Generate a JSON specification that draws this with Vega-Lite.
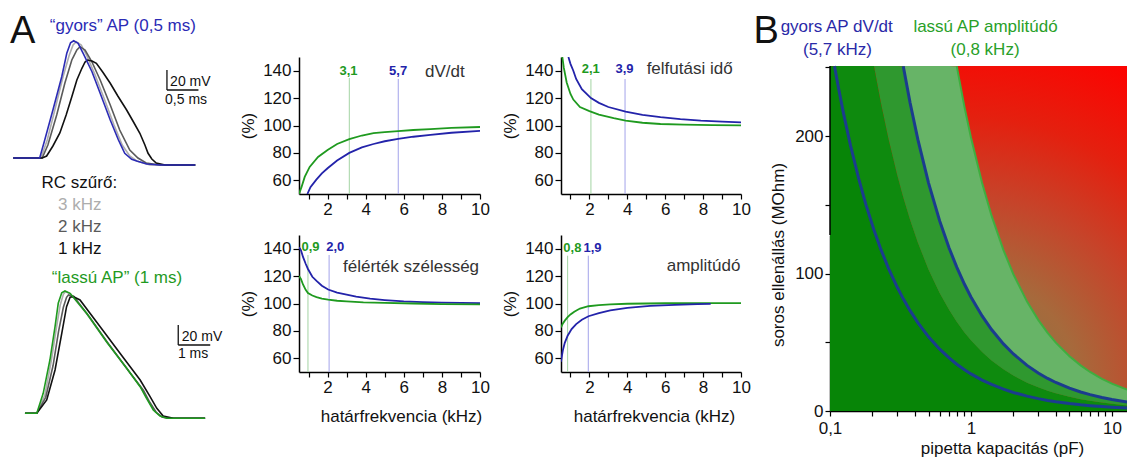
{
"$schema":"https://vega.github.io/schema/vega-lite/v6.json",
"padding":0,
"columns":7,
"align":"none",
"bounds":"flush",
"spacing":{"row":0,"column":0},
"resolve":{"scale":{"color":"independent"}},
"config":{
 "view":{"stroke":null},
 "font":"Liberation Sans",
 "axis":{"grid":false,"domainColor":"#000000","domainWidth":1.5,"tickColor":"#000000","tickWidth":1.2,"labelFontSize":17,"labelColor":"#111111","titleFontSize":17,"titleFontWeight":"normal","titleColor":"#111111","labelFlush":false,"labelOverlap":false,"labelPadding":2}
},
"datasets":{
 "fast":[
  {"s":"3k","t":0.21,"V":-70},{"s":"3k","t":0.65,"V":-70},{"s":"3k","t":0.75,"V":-52},{"s":"3k","t":0.87,"V":-22},{"s":"3k","t":1.0,"V":11},{"s":"3k","t":1.10,"V":33},{"s":"3k","t":1.16,"V":43},{"s":"3k","t":1.21,"V":46.3},{"s":"3k","t":1.29,"V":43},{"s":"3k","t":1.38,"V":32},{"s":"3k","t":1.51,"V":13},{"s":"3k","t":1.65,"V":-10},{"s":"3k","t":1.81,"V":-37},{"s":"3k","t":1.94,"V":-57},{"s":"3k","t":2.06,"V":-68},{"s":"3k","t":2.17,"V":-73},{"s":"3k","t":2.38,"V":-77},{"s":"3k","t":3.10,"V":-77},
  {"s":"2k","t":0.21,"V":-70},{"s":"2k","t":0.67,"V":-70},{"s":"2k","t":0.76,"V":-57},{"s":"2k","t":0.90,"V":-27},{"s":"2k","t":1.03,"V":5},{"s":"2k","t":1.14,"V":28},{"s":"2k","t":1.22,"V":38},{"s":"2k","t":1.27,"V":41.3},{"s":"2k","t":1.35,"V":38},{"s":"2k","t":1.46,"V":26},{"s":"2k","t":1.59,"V":8},{"s":"2k","t":1.75,"V":-17},{"s":"2k","t":1.90,"V":-42},{"s":"2k","t":2.06,"V":-62},{"s":"2k","t":2.19,"V":-70},{"s":"2k","t":2.32,"V":-75},{"s":"2k","t":2.54,"V":-77},{"s":"2k","t":3.10,"V":-77},
  {"s":"1k","t":0.21,"V":-70},{"s":"1k","t":0.67,"V":-70},{"s":"1k","t":0.74,"V":-68},{"s":"1k","t":0.84,"V":-58},{"s":"1k","t":0.95,"V":-45},{"s":"1k","t":1.05,"V":-27},{"s":"1k","t":1.14,"V":-8.7},{"s":"1k","t":1.22,"V":8},{"s":"1k","t":1.30,"V":19.7},{"s":"1k","t":1.35,"V":26},{"s":"1k","t":1.39,"V":28},{"s":"1k","t":1.46,"V":27},{"s":"1k","t":1.53,"V":24.7},{"s":"1k","t":1.63,"V":16},{"s":"1k","t":1.75,"V":4.7},{"s":"1k","t":1.87,"V":-8},{"s":"1k","t":2.01,"V":-22},{"s":"1k","t":2.11,"V":-33},{"s":"1k","t":2.22,"V":-45.3},{"s":"1k","t":2.30,"V":-57},{"s":"1k","t":2.35,"V":-65.3},{"s":"1k","t":2.41,"V":-71},{"s":"1k","t":2.48,"V":-75},{"s":"1k","t":2.62,"V":-77},{"s":"1k","t":3.10,"V":-77},
  {"s":"blue","t":0.21,"V":-70},{"s":"blue","t":0.63,"V":-70},{"s":"blue","t":0.71,"V":-52},{"s":"blue","t":0.84,"V":-22},{"s":"blue","t":0.98,"V":11.3},{"s":"blue","t":1.06,"V":34.7},{"s":"blue","t":1.12,"V":45.3},{"s":"blue","t":1.17,"V":47.3},{"s":"blue","t":1.24,"V":44.7},{"s":"blue","t":1.32,"V":34.7},{"s":"blue","t":1.46,"V":16.3},{"s":"blue","t":1.59,"V":-5.3},{"s":"blue","t":1.75,"V":-32},{"s":"blue","t":1.88,"V":-52},{"s":"blue","t":1.98,"V":-65.3},{"s":"blue","t":2.09,"V":-71.3},{"s":"blue","t":2.17,"V":-73},{"s":"blue","t":2.33,"V":-76},{"s":"blue","t":2.54,"V":-77},{"s":"blue","t":3.10,"V":-77}
 ],
 "slow":[
  {"s":"3k","t":0.78,"V":-70},{"s":"3k","t":1.15,"V":-70},{"s":"3k","t":1.40,"V":-52},{"s":"3k","t":1.60,"V":-18},{"s":"3k","t":1.76,"V":15},{"s":"3k","t":1.88,"V":38},{"s":"3k","t":1.98,"V":49},{"s":"3k","t":2.05,"V":51.6},{"s":"3k","t":2.20,"V":49.5},{"s":"3k","t":2.72,"V":29},{"s":"3k","t":3.35,"V":0.5},{"s":"3k","t":3.98,"V":-26},{"s":"3k","t":4.42,"V":-45},{"s":"3k","t":4.63,"V":-57},{"s":"3k","t":4.84,"V":-68},{"s":"3k","t":5.05,"V":-73.5},{"s":"3k","t":5.30,"V":-75},{"s":"3k","t":6.41,"V":-75},
  {"s":"2k","t":0.78,"V":-70},{"s":"2k","t":1.15,"V":-70},{"s":"2k","t":1.43,"V":-54},{"s":"2k","t":1.66,"V":-22},{"s":"2k","t":1.83,"V":12},{"s":"2k","t":1.98,"V":36},{"s":"2k","t":2.08,"V":46},{"s":"2k","t":2.14,"V":48.3},{"s":"2k","t":2.30,"V":47},{"s":"2k","t":2.80,"V":26},{"s":"2k","t":3.40,"V":-1},{"s":"2k","t":4.05,"V":-29},{"s":"2k","t":4.48,"V":-47},{"s":"2k","t":4.68,"V":-59},{"s":"2k","t":4.88,"V":-69},{"s":"2k","t":5.08,"V":-74},{"s":"2k","t":5.35,"V":-75},{"s":"2k","t":6.41,"V":-75},
  {"s":"1k","t":0.78,"V":-70},{"s":"1k","t":1.15,"V":-70},{"s":"1k","t":1.46,"V":-56.7},{"s":"1k","t":1.72,"V":-26.7},{"s":"1k","t":1.93,"V":10},{"s":"1k","t":2.08,"V":36.6},{"s":"1k","t":2.19,"V":46},{"s":"1k","t":2.29,"V":46.6},{"s":"1k","t":2.50,"V":43.3},{"s":"1k","t":3.13,"V":16.6},{"s":"1k","t":3.75,"V":-10},{"s":"1k","t":4.38,"V":-36.7},{"s":"1k","t":4.69,"V":-53.4},{"s":"1k","t":4.90,"V":-65},{"s":"1k","t":5.10,"V":-72.7},{"s":"1k","t":5.42,"V":-75},{"s":"1k","t":6.41,"V":-75},
  {"s":"green","t":0.78,"V":-70},{"s":"green","t":1.15,"V":-70},{"s":"green","t":1.35,"V":-50},{"s":"green","t":1.56,"V":-16.7},{"s":"green","t":1.72,"V":16.6},{"s":"green","t":1.82,"V":40},{"s":"green","t":1.93,"V":50.6},{"s":"green","t":2.03,"V":52.3},{"s":"green","t":2.19,"V":50},{"s":"green","t":2.71,"V":30},{"s":"green","t":3.33,"V":1.6},{"s":"green","t":3.96,"V":-25},{"s":"green","t":4.38,"V":-43.4},{"s":"green","t":4.58,"V":-55},{"s":"green","t":4.79,"V":-66.7},{"s":"green","t":5.0,"V":-72.7},{"s":"green","t":5.21,"V":-75},{"s":"green","t":6.41,"V":-75}
 ],
 "fastbar":[{"t":2.65,"V":-2,"t2":2.65,"V2":18},{"t":2.65,"V":-2,"t2":3.15,"V2":-2}],
 "slowbar":[{"t":5.57,"V":-1.7,"t2":5.57,"V2":18.3},{"t":5.57,"V":-1.7,"t2":6.57,"V2":-1.7}],
 "t0text":[
  {"label":"A","t":0.16,"V":45.5,"s":"black","k":"big"},
  {"label":"“gyors” AP (0,5 ms)","t":0.79,"V":57.5,"s":"blue","k":"mid"}
 ],
 "t1text":[
  {"label":"RC szűrő:","t":0.66,"V":-100,"s":"black","k":"mid"},
  {"label":"3 kHz","t":0.92,"V":-121.5,"s":"3k","k":"mid"},
  {"label":"2 kHz","t":0.92,"V":-144,"s":"2k","k":"mid"},
  {"label":"1 kHz","t":0.92,"V":-166,"s":"1k","k":"mid"},
  {"label":"20 mV","t":2.70,"V":2,"s":"black","k":"small"},
  {"label":"0,5 ms","t":2.62,"V":-15.5,"s":"black","k":"small"}
 ],
 "t2text":[
  {"label":"“lassú AP” (1 ms)","t":1.62,"V":60.3,"s":"green","k":"mid"},
  {"label":"20 mV","t":5.68,"V":2.3,"s":"black","k":"small"},
  {"label":"1 ms","t":5.56,"V":-14.2,"s":"black","k":"small"}
 ],
 "curves":[
  {"p":"dvdt","s":"g","f":0.5,"v":50},{"p":"dvdt","s":"g","f":0.63,"v":55},{"p":"dvdt","s":"g","f":0.8,"v":62.5},{"p":"dvdt","s":"g","f":1.06,"v":69.8},{"p":"dvdt","s":"g","f":1.5,"v":77},{"p":"dvdt","s":"g","f":2.0,"v":82.1},{"p":"dvdt","s":"g","f":2.5,"v":86.5},{"p":"dvdt","s":"g","f":3.14,"v":90},{"p":"dvdt","s":"g","f":3.8,"v":92.7},{"p":"dvdt","s":"g","f":4.41,"v":94.5},{"p":"dvdt","s":"g","f":5.0,"v":95.2},{"p":"dvdt","s":"g","f":5.7,"v":95.9},{"p":"dvdt","s":"g","f":6.5,"v":96.7},{"p":"dvdt","s":"g","f":7.4,"v":97.4},{"p":"dvdt","s":"g","f":8.5,"v":98.2},{"p":"dvdt","s":"g","f":10,"v":98.9},
  {"p":"dvdt","s":"b","f":0.94,"v":50},{"p":"dvdt","s":"b","f":1.1,"v":55},{"p":"dvdt","s":"b","f":1.41,"v":60.5},{"p":"dvdt","s":"b","f":1.7,"v":65},{"p":"dvdt","s":"b","f":2.0,"v":68.8},{"p":"dvdt","s":"b","f":2.5,"v":74.5},{"p":"dvdt","s":"b","f":3.14,"v":80},{"p":"dvdt","s":"b","f":3.8,"v":84},{"p":"dvdt","s":"b","f":4.41,"v":86.5},{"p":"dvdt","s":"b","f":5.0,"v":88.5},{"p":"dvdt","s":"b","f":5.7,"v":90.2},{"p":"dvdt","s":"b","f":6.5,"v":91.8},{"p":"dvdt","s":"b","f":7.4,"v":93.2},{"p":"dvdt","s":"b","f":8.5,"v":94.7},{"p":"dvdt","s":"b","f":10,"v":96.1},
  {"p":"rise","s":"g","f":0.57,"v":150},{"p":"rise","s":"g","f":0.65,"v":142},{"p":"rise","s":"g","f":0.8,"v":131.4},{"p":"rise","s":"g","f":1.0,"v":123},{"p":"rise","s":"g","f":1.15,"v":118.9},{"p":"rise","s":"g","f":1.5,"v":113.5},{"p":"rise","s":"g","f":2.0,"v":110.5},{"p":"rise","s":"g","f":2.5,"v":108},{"p":"rise","s":"g","f":3.28,"v":105.3},{"p":"rise","s":"g","f":3.91,"v":103.5},{"p":"rise","s":"g","f":4.8,"v":102},{"p":"rise","s":"g","f":5.75,"v":101.1},{"p":"rise","s":"g","f":7,"v":100.6},{"p":"rise","s":"g","f":8.5,"v":100.3},{"p":"rise","s":"g","f":10,"v":100.1},
  {"p":"rise","s":"b","f":0.89,"v":150},{"p":"rise","s":"b","f":1.0,"v":145},{"p":"rise","s":"b","f":1.15,"v":140},{"p":"rise","s":"b","f":1.3,"v":134},{"p":"rise","s":"b","f":1.6,"v":126.5},{"p":"rise","s":"b","f":2.08,"v":120},{"p":"rise","s":"b","f":2.5,"v":116.5},{"p":"rise","s":"b","f":3.0,"v":113.5},{"p":"rise","s":"b","f":3.91,"v":110.2},{"p":"rise","s":"b","f":4.8,"v":107.8},{"p":"rise","s":"b","f":5.75,"v":106.1},{"p":"rise","s":"b","f":6.8,"v":104.6},{"p":"rise","s":"b","f":7.88,"v":103.5},{"p":"rise","s":"b","f":9,"v":102.8},{"p":"rise","s":"b","f":10,"v":102.3},
  {"p":"half","s":"b","f":0.5,"v":141},{"p":"half","s":"b","f":0.6,"v":139},{"p":"half","s":"b","f":0.71,"v":134},{"p":"half","s":"b","f":0.85,"v":129},{"p":"half","s":"b","f":0.97,"v":125.2},{"p":"half","s":"b","f":1.2,"v":119.5},{"p":"half","s":"b","f":1.42,"v":116.5},{"p":"half","s":"b","f":1.7,"v":113},{"p":"half","s":"b","f":2.03,"v":110.2},{"p":"half","s":"b","f":2.5,"v":108},{"p":"half","s":"b","f":3.0,"v":106.5},{"p":"half","s":"b","f":3.5,"v":105},{"p":"half","s":"b","f":4.23,"v":103.5},{"p":"half","s":"b","f":5.0,"v":102.5},{"p":"half","s":"b","f":6.0,"v":101.5},{"p":"half","s":"b","f":7.0,"v":101},{"p":"half","s":"b","f":8.0,"v":100.7},{"p":"half","s":"b","f":10,"v":100.3},
  {"p":"half","s":"g","f":0.5,"v":120},{"p":"half","s":"g","f":0.6,"v":118},{"p":"half","s":"g","f":0.71,"v":113.9},{"p":"half","s":"g","f":0.85,"v":110},{"p":"half","s":"g","f":0.97,"v":107.7},{"p":"half","s":"g","f":1.2,"v":105.8},{"p":"half","s":"g","f":1.42,"v":104.7},{"p":"half","s":"g","f":1.7,"v":103.6},{"p":"half","s":"g","f":2.03,"v":102.8},{"p":"half","s":"g","f":2.5,"v":102},{"p":"half","s":"g","f":3.0,"v":101.5},{"p":"half","s":"g","f":3.88,"v":100.8},{"p":"half","s":"g","f":5,"v":100.4},{"p":"half","s":"g","f":6.5,"v":100},{"p":"half","s":"g","f":8,"v":99.6},{"p":"half","s":"g","f":10,"v":99.3},
  {"p":"ampl","s":"g","f":0.5,"v":82.5},{"p":"ampl","s":"g","f":0.6,"v":85.5},{"p":"ampl","s":"g","f":0.7,"v":87.5},{"p":"ampl","s":"g","f":0.85,"v":90},{"p":"ampl","s":"g","f":1.0,"v":92},{"p":"ampl","s":"g","f":1.2,"v":94},{"p":"ampl","s":"g","f":1.5,"v":96.3},{"p":"ampl","s":"g","f":1.95,"v":98},{"p":"ampl","s":"g","f":2.5,"v":98.8},{"p":"ampl","s":"g","f":3.1,"v":99.4},{"p":"ampl","s":"g","f":4,"v":99.8},{"p":"ampl","s":"g","f":6,"v":100.2},{"p":"ampl","s":"g","f":8,"v":100.3},{"p":"ampl","s":"g","f":10,"v":100.3},
  {"p":"ampl","s":"b","f":0.5,"v":57.5},{"p":"ampl","s":"b","f":0.55,"v":62},{"p":"ampl","s":"b","f":0.6,"v":66},{"p":"ampl","s":"b","f":0.7,"v":71.3},{"p":"ampl","s":"b","f":0.85,"v":76.5},{"p":"ampl","s":"b","f":1.06,"v":81.3},{"p":"ampl","s":"b","f":1.3,"v":85},{"p":"ampl","s":"b","f":1.6,"v":88.2},{"p":"ampl","s":"b","f":1.95,"v":90.7},{"p":"ampl","s":"b","f":2.5,"v":93},{"p":"ampl","s":"b","f":3.1,"v":95},{"p":"ampl","s":"b","f":4,"v":96.8},{"p":"ampl","s":"b","f":5.2,"v":98.2},{"p":"ampl","s":"b","f":6.5,"v":99},{"p":"ampl","s":"b","f":7.7,"v":99.5},{"p":"ampl","s":"b","f":8.4,"v":99.7}
 ],
 "marks":[
  {"p":"dvdt","s":"gm","f":3.14,"lo":50,"v":134.7},{"p":"dvdt","s":"bm","f":5.71,"lo":50,"v":134},
  {"p":"rise","s":"gm","f":2.08,"lo":50,"v":133.9},{"p":"rise","s":"bm","f":3.88,"lo":50,"v":133.9},
  {"p":"half","s":"gm","f":0.97,"lo":50,"v":135.4},{"p":"half","s":"bm","f":2.08,"lo":50,"v":135.4},
  {"p":"ampl","s":"gm","f":0.85,"lo":50,"v":134.9},{"p":"ampl","s":"bm","f":1.94,"lo":50,"v":134.9}
 ],
 "blabels":[
  {"p":"dvdt","s":"g","f":3.1,"v":137,"label":"3,1"},{"p":"dvdt","s":"b","f":5.7,"v":137,"label":"5,7"},
  {"p":"rise","s":"g","f":2.07,"v":138.3,"label":"2,1"},{"p":"rise","s":"b","f":3.85,"v":138.3,"label":"3,9"},
  {"p":"half","s":"g","f":1.10,"v":138.3,"label":"0,9"},{"p":"half","s":"b","f":2.40,"v":138.3,"label":"2,0"},
  {"p":"ampl","s":"g","f":1.10,"v":137.8,"label":"0,8"},{"p":"ampl","s":"b","f":2.16,"v":137.8,"label":"1,9"}
 ],
 "names":[
  {"p":"dvdt","f":7.11,"v":135.6,"label":"dV/dt"},
  {"p":"rise","f":5.02,"v":137.8,"label":"felfutási idő"},
  {"p":"half","f":2.81,"v":123.2,"label":"félérték szélesség"},
  {"p":"ampl","f":6.08,"v":123.9,"label":"amplitúdó"}
 ],
 "bands":[
  {"C":0.1,"r1":251,"r2":251,"r3":251,"r4":251},
  {"C":0.1076,"r1":250.9,"r2":251,"r3":251,"r4":251},
  {"C":0.115,"r1":234.8,"r2":251,"r3":251,"r4":251},
  {"C":0.125,"r1":216,"r2":251,"r3":251,"r4":251},
  {"C":0.14,"r1":192.9,"r2":251,"r3":251,"r4":251},
  {"C":0.16,"r1":168.8,"r2":251,"r3":251,"r4":251},
  {"C":0.18,"r1":150,"r2":251,"r3":251,"r4":251},
  {"C":0.205,"r1":131.7,"r2":251,"r3":251,"r4":251},
  {"C":0.23,"r1":117.4,"r2":223.9,"r3":251,"r4":251},
  {"C":0.26,"r1":103.8,"r2":198.1,"r3":251,"r4":251},
  {"C":0.3,"r1":90,"r2":171.7,"r3":251,"r4":251},
  {"C":0.331,"r1":81.6,"r2":155.6,"r3":250.8,"r4":251},
  {"C":0.37,"r1":73,"r2":139.2,"r3":224.3,"r4":251},
  {"C":0.42,"r1":64.3,"r2":122.6,"r3":197.6,"r4":251},
  {"C":0.5,"r1":54,"r2":103,"r3":166,"r4":251},
  {"C":0.6,"r1":45,"r2":85.8,"r3":138.3,"r4":251},
  {"C":0.7,"r1":38.6,"r2":73.6,"r3":118.6,"r4":251},
  {"C":0.793,"r1":34,"r2":64.9,"r3":104.7,"r4":250.9},
  {"C":0.9,"r1":30,"r2":57.2,"r3":92.2,"r4":221.1},
  {"C":1,"r1":27,"r2":51.5,"r3":83,"r4":199},
  {"C":1.2,"r1":22.5,"r2":42.9,"r3":69.2,"r4":165.8},
  {"C":1.4,"r1":19.3,"r2":36.8,"r3":59.3,"r4":142.1},
  {"C":1.7,"r1":15.9,"r2":30.3,"r3":48.8,"r4":117.1},
  {"C":2,"r1":13.5,"r2":25.8,"r3":41.5,"r4":99.5},
  {"C":2.5,"r1":10.8,"r2":20.6,"r3":33.2,"r4":79.6},
  {"C":3,"r1":9,"r2":17.2,"r3":27.7,"r4":66.3},
  {"C":3.5,"r1":7.7,"r2":14.7,"r3":23.7,"r4":56.9},
  {"C":4,"r1":6.75,"r2":12.9,"r3":20.75,"r4":49.75},
  {"C":5,"r1":5.4,"r2":10.3,"r3":16.6,"r4":39.8},
  {"C":6,"r1":4.5,"r2":8.6,"r3":13.8,"r4":33.2},
  {"C":7,"r1":3.9,"r2":7.4,"r3":11.9,"r4":28.4},
  {"C":8.5,"r1":3.2,"r2":6.1,"r3":9.8,"r4":23.4},
  {"C":10,"r1":2.7,"r2":5.2,"r3":8.3,"r4":19.9},
  {"C":12.8,"r1":2.1,"r2":4.0,"r3":6.5,"r4":15.5}
 ],
 "baxis":[{"C":0.1,"R":128.05,"R2":251}],
 "bhead":[
  {"C":0.0352,"R":267.6,"label":"B","s":"black","k":"big"},
  {"C":0.1116,"R":275.5,"label":"gyors AP dV/dt","s":"blue","k":"mid"},
  {"C":0.113,"R":258.9,"label":"(5,7 kHz)","s":"blue","k":"mid"},
  {"C":1.269,"R":275.5,"label":"lassú AP amplitúdó","s":"green","k":"mid"},
  {"C":1.26,"R":258.9,"label":"(0,8 kHz)","s":"green","k":"mid"}
 ],
 "btitle":[{"C":0.0435,"R":113.5,"label":"soros ellenállás (MOhm)"}]
},
"concat":[
 {"width":218,"height":57,
  "encoding":{"x":{"field":"t","type":"quantitative","scale":{"domain":[0,3.4603],"nice":false,"zero":false},"axis":null},
   "y":{"field":"V","type":"quantitative","scale":{"domain":[31,88],"nice":false,"zero":false},"axis":null}},
  "layer":[
   {"data":{"name":"fast"},"mark":{"type":"line","strokeWidth":1.6,"clip":true},
    "encoding":{"color":{"field":"s","type":"nominal","scale":{"domain":["3k","2k","1k","blue","green","black"],"range":["#adadad","#5a5a5a","#111111","#2b2bb5","#1f9a1f","#111111"]},"legend":null}}},
   {"data":{"name":"t0text"},"transform":[{"filter":"datum.k=='big'"}],"mark":{"type":"text","fontSize":38,"align":"left","baseline":"alphabetic"},
    "encoding":{"text":{"field":"label"},"color":{"field":"s","type":"nominal","scale":{"domain":["3k","2k","1k","blue","green","black"],"range":["#adadad","#5a5a5a","#111111","#2b2bb5","#1f9a1f","#111111"]},"legend":null}}},
   {"data":{"name":"t0text"},"transform":[{"filter":"datum.k=='mid'"}],"mark":{"type":"text","fontSize":17,"align":"left","baseline":"alphabetic"},
    "encoding":{"text":{"field":"label"},"color":{"field":"s","type":"nominal","scale":{"domain":["3k","2k","1k","blue","green","black"],"range":["#adadad","#5a5a5a","#111111","#2b2bb5","#1f9a1f","#111111"]},"legend":null}}}
  ]},
 {"width":81,"height":1,"data":{"values":[]},"mark":"point"},
 {"width":1,"height":1,"data":{"values":[]},"mark":"point"},
 {"width":1,"height":1,"data":{"values":[]},"mark":"point"},
 {"width":1,"height":1,"data":{"values":[]},"mark":"point"},
 {"width":1,"height":1,"data":{"values":[]},"mark":"point"},
 {"width":1,"height":1,"data":{"values":[]},"mark":"point"},

 {"width":218,"height":178,
  "encoding":{"x":{"field":"t","type":"quantitative","scale":{"domain":[0,3.4603],"nice":false,"zero":false},"axis":null},
   "y":{"field":"V","type":"quantitative","scale":{"domain":[-147,31],"nice":false,"zero":false},"axis":null}},
  "layer":[
   {"data":{"name":"fast"},"mark":{"type":"line","strokeWidth":1.6,"clip":true},
    "encoding":{"color":{"field":"s","type":"nominal","scale":{"domain":["3k","2k","1k","blue","green","black"],"range":["#adadad","#5a5a5a","#111111","#2b2bb5","#1f9a1f","#111111"]},"legend":null}}},
   {"data":{"name":"fastbar"},"mark":{"type":"rule","strokeWidth":1.3,"color":"#111111"},
    "encoding":{"x2":{"field":"t2"},"y2":{"field":"V2"}}},
   {"data":{"name":"t1text"},"transform":[{"filter":"datum.k=='mid'"}],"mark":{"type":"text","fontSize":17,"align":"left","baseline":"alphabetic"},
    "encoding":{"text":{"field":"label"},"color":{"field":"s","type":"nominal","scale":{"domain":["3k","2k","1k","blue","green","black"],"range":["#adadad","#5a5a5a","#111111","#2b2bb5","#1f9a1f","#111111"]},"legend":null}}},
   {"data":{"name":"t1text"},"transform":[{"filter":"datum.k=='small'"}],"mark":{"type":"text","fontSize":14,"align":"left","baseline":"alphabetic"},
    "encoding":{"text":{"field":"label"},"color":{"field":"s","type":"nominal","scale":{"domain":["3k","2k","1k","blue","green","black"],"range":["#adadad","#5a5a5a","#111111","#2b2bb5","#1f9a1f","#111111"]},"legend":null}}}
  ]},
 {"width":81,"height":1,"data":{"values":[]},"mark":"point"},
 {"width":181,"height":137,
  "encoding":{"x":{"field":"f","type":"quantitative","scale":{"domain":[0.5,10],"nice":false,"zero":false},"axis":{"values":[1,2,3,4,5,6,7,8,9,10],"labelExpr":"datum.value % 2 == 0 ? datum.label : ''","tickSize":5,"title":null}},
   "y":{"field":"v","type":"quantitative","scale":{"domain":[50,150],"nice":false,"zero":false},"axis":{"values":[60,80,100,120,140],"tickSize":6,"title":"(%)","titlePadding":5}}},
  "layer":[
   {"data":{"name":"marks"},"transform":[{"filter":"datum.p=='dvdt'"}],"mark":{"type":"rule","strokeWidth":1},
    "encoding":{"y2":{"field":"lo"},"color":{"field":"s","type":"nominal","scale":{"domain":["g","b","gm","bm"],"range":["#1f9a1f","#2323aa","#a3d4a3","#a3a3ea"]},"legend":null}}},
   {"data":{"name":"curves"},"transform":[{"filter":"datum.p=='dvdt'"}],"mark":{"type":"line","strokeWidth":1.8,"clip":true},
    "encoding":{"color":{"field":"s","type":"nominal","scale":{"domain":["g","b","gm","bm"],"range":["#1f9a1f","#2323aa","#a3d4a3","#a3a3ea"]},"legend":null}}},
   {"data":{"name":"blabels"},"transform":[{"filter":"datum.p=='dvdt'"}],"mark":{"type":"text","fontSize":13,"fontWeight":"bold","align":"center","baseline":"alphabetic"},
    "encoding":{"text":{"field":"label"},"color":{"field":"s","type":"nominal","scale":{"domain":["g","b","gm","bm"],"range":["#1f9a1f","#2323aa","#a3d4a3","#a3a3ea"]},"legend":null}}},
   {"data":{"name":"names"},"transform":[{"filter":"datum.p=='dvdt'"}],"mark":{"type":"text","fontSize":17,"align":"left","baseline":"alphabetic","color":"#333333"},
    "encoding":{"text":{"field":"label"}}}
  ]},
 {"width":81,"height":1,"data":{"values":[]},"mark":"point"},
 {"width":180,"height":137,
  "encoding":{"x":{"field":"f","type":"quantitative","scale":{"domain":[0.5,10],"nice":false,"zero":false},"axis":{"values":[1,2,3,4,5,6,7,8,9,10],"labelExpr":"datum.value % 2 == 0 ? datum.label : ''","tickSize":5,"title":null}},
   "y":{"field":"v","type":"quantitative","scale":{"domain":[50,150],"nice":false,"zero":false},"axis":{"values":[60,80,100,120,140],"tickSize":6,"title":"(%)","titlePadding":5}}},
  "layer":[
   {"data":{"name":"marks"},"transform":[{"filter":"datum.p=='rise'"}],"mark":{"type":"rule","strokeWidth":1},
    "encoding":{"y2":{"field":"lo"},"color":{"field":"s","type":"nominal","scale":{"domain":["g","b","gm","bm"],"range":["#1f9a1f","#2323aa","#a3d4a3","#a3a3ea"]},"legend":null}}},
   {"data":{"name":"curves"},"transform":[{"filter":"datum.p=='rise'"}],"mark":{"type":"line","strokeWidth":1.8,"clip":true},
    "encoding":{"color":{"field":"s","type":"nominal","scale":{"domain":["g","b","gm","bm"],"range":["#1f9a1f","#2323aa","#a3d4a3","#a3a3ea"]},"legend":null}}},
   {"data":{"name":"blabels"},"transform":[{"filter":"datum.p=='rise'"}],"mark":{"type":"text","fontSize":13,"fontWeight":"bold","align":"center","baseline":"alphabetic"},
    "encoding":{"text":{"field":"label"},"color":{"field":"s","type":"nominal","scale":{"domain":["g","b","gm","bm"],"range":["#1f9a1f","#2323aa","#a3d4a3","#a3a3ea"]},"legend":null}}},
   {"data":{"name":"names"},"transform":[{"filter":"datum.p=='rise'"}],"mark":{"type":"text","fontSize":17,"align":"left","baseline":"alphabetic","color":"#333333"},
    "encoding":{"text":{"field":"label"}}}
  ]},
 {"width":89,"height":1,"data":{"values":[]},"mark":"point"},
 {"width":297,"height":178,
  "data":{"name":"bands"},
  "encoding":{"x":{"field":"C","type":"quantitative","scale":{"type":"log","domain":[0.1,12.8],"nice":false},"axis":null}},
  "layer":[
   {"mark":{"type":"area","clip":true,"color":{"gradient":"radial","x1":0.45,"y1":0.95,"r1":0,"x2":0.45,"y2":0.95,"r2":1.15,"stops":[{"offset":0,"color":"#7a7a48"},{"offset":0.3,"color":"#a66a3c"},{"offset":0.5,"color":"#c6442a"},{"offset":0.7,"color":"#e4200f"},{"offset":0.9,"color":"#fa0602"},{"offset":1,"color":"#ff0000"}]}},
    "encoding":{"y":{"datum":251,"type":"quantitative","scale":{"domain":[128.05,257.55],"nice":false,"zero":false}},"y2":{"datum":0}}},
   {"mark":{"type":"area","clip":true,"color":"#67b467"},
    "encoding":{"y":{"field":"r4","type":"quantitative","scale":{"domain":[128.05,257.55],"nice":false,"zero":false}},"y2":{"field":"r3"}}},
   {"mark":{"type":"area","clip":true,"color":"#2f982f"},
    "encoding":{"y":{"field":"r3","type":"quantitative","scale":{"domain":[128.05,257.55],"nice":false,"zero":false}},"y2":{"field":"r2"}}},
   {"mark":{"type":"area","clip":true,"color":"#0e8a0e"},
    "encoding":{"y":{"field":"r2","type":"quantitative","scale":{"domain":[128.05,257.55],"nice":false,"zero":false}},"y2":{"field":"r1"}}},
   {"mark":{"type":"area","clip":true,"color":"#078507"},
    "encoding":{"y":{"field":"r1","type":"quantitative","scale":{"domain":[128.05,257.55],"nice":false,"zero":false},
      "axis":{"values":[150,200,250],"labelExpr":"datum.value == 200 ? '200' : ''","tickSize":5,"title":null,"domain":false}},"y2":{"datum":0}}},
   {"transform":[{"filter":"datum.r4 < 251"}],"mark":{"type":"line","clip":true,"color":"#3fae3f","strokeWidth":2},
    "encoding":{"y":{"field":"r4","type":"quantitative","scale":{"domain":[128.05,257.55],"nice":false,"zero":false}}}},
   {"transform":[{"filter":"datum.r3 < 251"}],"mark":{"type":"line","clip":true,"color":"#1b3c8e","strokeWidth":3},
    "encoding":{"y":{"field":"r3","type":"quantitative","scale":{"domain":[128.05,257.55],"nice":false,"zero":false}}}},
   {"transform":[{"filter":"datum.r1 < 251"}],"mark":{"type":"line","clip":true,"color":"#1b3c8e","strokeWidth":3},
    "encoding":{"y":{"field":"r1","type":"quantitative","scale":{"domain":[128.05,257.55],"nice":false,"zero":false}}}},
   {"data":{"name":"baxis"},"mark":{"type":"rule","color":"#000000","strokeWidth":1.5},
    "encoding":{"y":{"field":"R","type":"quantitative","scale":{"domain":[128.05,257.55],"nice":false,"zero":false}},"y2":{"field":"R2"}}},
   {"data":{"name":"bhead"},"transform":[{"filter":"datum.k=='mid'"}],"mark":{"type":"text","fontSize":17,"align":"center","baseline":"alphabetic"},
    "encoding":{"y":{"field":"R","type":"quantitative","scale":{"domain":[128.05,257.55],"nice":false,"zero":false}},"text":{"field":"label"},
     "color":{"field":"s","type":"nominal","scale":{"domain":["black","blue","green"],"range":["#111111","#2a2aa8","#29a029"]},"legend":null}}},
   {"data":{"name":"bhead"},"transform":[{"filter":"datum.k=='big'"}],"mark":{"type":"text","fontSize":38,"align":"center","baseline":"alphabetic","color":"#111111"},
    "encoding":{"y":{"field":"R","type":"quantitative","scale":{"domain":[128.05,257.55],"nice":false,"zero":false}},"text":{"field":"label"}}}
  ]},

 {"width":218,"height":226,
  "encoding":{"x":{"field":"t","type":"quantitative","scale":{"domain":[0,6.8125],"nice":false,"zero":false},"axis":null},
   "y":{"field":"V","type":"quantitative","scale":{"domain":[-117.7,108.3],"nice":false,"zero":false},"axis":null}},
  "layer":[
   {"data":{"name":"slow"},"mark":{"type":"line","strokeWidth":1.6},
    "encoding":{"color":{"field":"s","type":"nominal","scale":{"domain":["3k","2k","1k","blue","green","black"],"range":["#adadad","#5a5a5a","#111111","#2b2bb5","#1f9a1f","#111111"]},"legend":null}}},
   {"data":{"name":"slowbar"},"mark":{"type":"rule","strokeWidth":1.3,"color":"#111111"},
    "encoding":{"x2":{"field":"t2"},"y2":{"field":"V2"}}},
   {"data":{"name":"t2text"},"transform":[{"filter":"datum.k=='mid'"}],"mark":{"type":"text","fontSize":17,"align":"left","baseline":"alphabetic"},
    "encoding":{"text":{"field":"label"},"color":{"field":"s","type":"nominal","scale":{"domain":["3k","2k","1k","blue","green","black"],"range":["#adadad","#5a5a5a","#111111","#2b2bb5","#1f9a1f","#111111"]},"legend":null}}},
   {"data":{"name":"t2text"},"transform":[{"filter":"datum.k=='small'"}],"mark":{"type":"text","fontSize":14,"align":"left","baseline":"alphabetic"},
    "encoding":{"text":{"field":"label"},"color":{"field":"s","type":"nominal","scale":{"domain":["3k","2k","1k","blue","green","black"],"range":["#adadad","#5a5a5a","#111111","#2b2bb5","#1f9a1f","#111111"]},"legend":null}}}
  ]},
 {"width":81,"height":1,"data":{"values":[]},"mark":"point"},
 {"width":181,"height":137,
  "encoding":{"x":{"field":"f","type":"quantitative","scale":{"domain":[0.5,10],"nice":false,"zero":false},"axis":{"values":[1,2,3,4,5,6,7,8,9,10],"labelExpr":"datum.value % 2 == 0 ? datum.label : ''","tickSize":5,"title":"határfrekvencia (kHz)","titlePadding":13,"titleX":102}},
   "y":{"field":"v","type":"quantitative","scale":{"domain":[50,150],"nice":false,"zero":false},"axis":{"values":[60,80,100,120,140],"tickSize":6,"title":"(%)","titlePadding":5}}},
  "layer":[
   {"data":{"name":"marks"},"transform":[{"filter":"datum.p=='half'"}],"mark":{"type":"rule","strokeWidth":1},
    "encoding":{"y2":{"field":"lo"},"color":{"field":"s","type":"nominal","scale":{"domain":["g","b","gm","bm"],"range":["#1f9a1f","#2323aa","#a3d4a3","#a3a3ea"]},"legend":null}}},
   {"data":{"name":"curves"},"transform":[{"filter":"datum.p=='half'"}],"mark":{"type":"line","strokeWidth":1.8,"clip":true},
    "encoding":{"color":{"field":"s","type":"nominal","scale":{"domain":["g","b","gm","bm"],"range":["#1f9a1f","#2323aa","#a3d4a3","#a3a3ea"]},"legend":null}}},
   {"data":{"name":"blabels"},"transform":[{"filter":"datum.p=='half'"}],"mark":{"type":"text","fontSize":13,"fontWeight":"bold","align":"center","baseline":"alphabetic"},
    "encoding":{"text":{"field":"label"},"color":{"field":"s","type":"nominal","scale":{"domain":["g","b","gm","bm"],"range":["#1f9a1f","#2323aa","#a3d4a3","#a3a3ea"]},"legend":null}}},
   {"data":{"name":"names"},"transform":[{"filter":"datum.p=='half'"}],"mark":{"type":"text","fontSize":17,"align":"left","baseline":"alphabetic","color":"#333333"},
    "encoding":{"text":{"field":"label"}}}
  ]},
 {"width":81,"height":1,"data":{"values":[]},"mark":"point"},
 {"width":180,"height":137,
  "encoding":{"x":{"field":"f","type":"quantitative","scale":{"domain":[0.5,10],"nice":false,"zero":false},"axis":{"values":[1,2,3,4,5,6,7,8,9,10],"labelExpr":"datum.value % 2 == 0 ? datum.label : ''","tickSize":5,"title":"határfrekvencia (kHz)","titlePadding":13,"titleX":93}},
   "y":{"field":"v","type":"quantitative","scale":{"domain":[50,150],"nice":false,"zero":false},"axis":{"values":[60,80,100,120,140],"tickSize":6,"title":"(%)","titlePadding":5}}},
  "layer":[
   {"data":{"name":"marks"},"transform":[{"filter":"datum.p=='ampl'"}],"mark":{"type":"rule","strokeWidth":1},
    "encoding":{"y2":{"field":"lo"},"color":{"field":"s","type":"nominal","scale":{"domain":["g","b","gm","bm"],"range":["#1f9a1f","#2323aa","#a3d4a3","#a3a3ea"]},"legend":null}}},
   {"data":{"name":"curves"},"transform":[{"filter":"datum.p=='ampl'"}],"mark":{"type":"line","strokeWidth":1.8,"clip":true},
    "encoding":{"color":{"field":"s","type":"nominal","scale":{"domain":["g","b","gm","bm"],"range":["#1f9a1f","#2323aa","#a3d4a3","#a3a3ea"]},"legend":null}}},
   {"data":{"name":"blabels"},"transform":[{"filter":"datum.p=='ampl'"}],"mark":{"type":"text","fontSize":13,"fontWeight":"bold","align":"center","baseline":"alphabetic"},
    "encoding":{"text":{"field":"label"},"color":{"field":"s","type":"nominal","scale":{"domain":["g","b","gm","bm"],"range":["#1f9a1f","#2323aa","#a3d4a3","#a3a3ea"]},"legend":null}}},
   {"data":{"name":"names"},"transform":[{"filter":"datum.p=='ampl'"}],"mark":{"type":"text","fontSize":17,"align":"left","baseline":"alphabetic","color":"#333333"},
    "encoding":{"text":{"field":"label"}}}
  ]},
 {"width":89,"height":1,"data":{"values":[]},"mark":"point"},
 {"width":297,"height":176,
  "data":{"name":"bands"},
  "encoding":{"x":{"field":"C","type":"quantitative","scale":{"type":"log","domain":[0.1,12.8],"nice":false},
   "axis":{"values":[0.1,0.2,0.3,0.4,0.5,0.6,0.7,0.8,0.9,1,2,3,4,5,6,7,8,9,10],"labelExpr":"datum.value == 0.1 ? '0,1' : datum.value == 1 ? '1' : datum.value == 10 ? '10' : ''","tickSize":5,"labelPadding":4,"title":"pipetta kapacitás (pF)","titlePadding":4,"titleX":172}}},
  "layer":[
   {"mark":{"type":"area","clip":true,"color":{"gradient":"radial","x1":0.45,"y1":0.95,"r1":0,"x2":0.45,"y2":0.95,"r2":1.15,"stops":[{"offset":0,"color":"#7a7a48"},{"offset":0.3,"color":"#a66a3c"},{"offset":0.5,"color":"#c6442a"},{"offset":0.7,"color":"#e4200f"},{"offset":0.9,"color":"#fa0602"},{"offset":1,"color":"#ff0000"}]}},
    "encoding":{"y":{"datum":251,"type":"quantitative","scale":{"domain":[0,128.05],"nice":false,"zero":false}},"y2":{"datum":0}}},
   {"mark":{"type":"area","clip":true,"color":"#67b467"},
    "encoding":{"y":{"field":"r4","type":"quantitative","scale":{"domain":[0,128.05],"nice":false,"zero":false}},"y2":{"field":"r3"}}},
   {"mark":{"type":"area","clip":true,"color":"#2f982f"},
    "encoding":{"y":{"field":"r3","type":"quantitative","scale":{"domain":[0,128.05],"nice":false,"zero":false}},"y2":{"field":"r2"}}},
   {"mark":{"type":"area","clip":true,"color":"#0e8a0e"},
    "encoding":{"y":{"field":"r2","type":"quantitative","scale":{"domain":[0,128.05],"nice":false,"zero":false}},"y2":{"field":"r1"}}},
   {"mark":{"type":"area","clip":true,"color":"#078507"},
    "encoding":{"y":{"field":"r1","type":"quantitative","scale":{"domain":[0,128.05],"nice":false,"zero":false},
      "axis":{"values":[0,50,100],"labelExpr":"datum.value == 0 ? '0' : datum.value == 100 ? '100' : ''","tickSize":5,"title":null}},"y2":{"datum":0}}},
   {"transform":[{"filter":"datum.r4 < 251"}],"mark":{"type":"line","clip":true,"color":"#3fae3f","strokeWidth":2},
    "encoding":{"y":{"field":"r4","type":"quantitative","scale":{"domain":[0,128.05],"nice":false,"zero":false}}}},
   {"transform":[{"filter":"datum.r3 < 251"}],"mark":{"type":"line","clip":true,"color":"#1b3c8e","strokeWidth":3},
    "encoding":{"y":{"field":"r3","type":"quantitative","scale":{"domain":[0,128.05],"nice":false,"zero":false}}}},
   {"transform":[{"filter":"datum.r1 < 251"}],"mark":{"type":"line","clip":true,"color":"#1b3c8e","strokeWidth":3},
    "encoding":{"y":{"field":"r1","type":"quantitative","scale":{"domain":[0,128.05],"nice":false,"zero":false}}}},
   {"data":{"name":"btitle"},"mark":{"type":"text","fontSize":17,"angle":270,"align":"center","baseline":"middle","color":"#111111"},
    "encoding":{"y":{"field":"R","type":"quantitative","scale":{"domain":[0,128.05],"nice":false,"zero":false}},"text":{"field":"label"}}}
  ]}
]
}
